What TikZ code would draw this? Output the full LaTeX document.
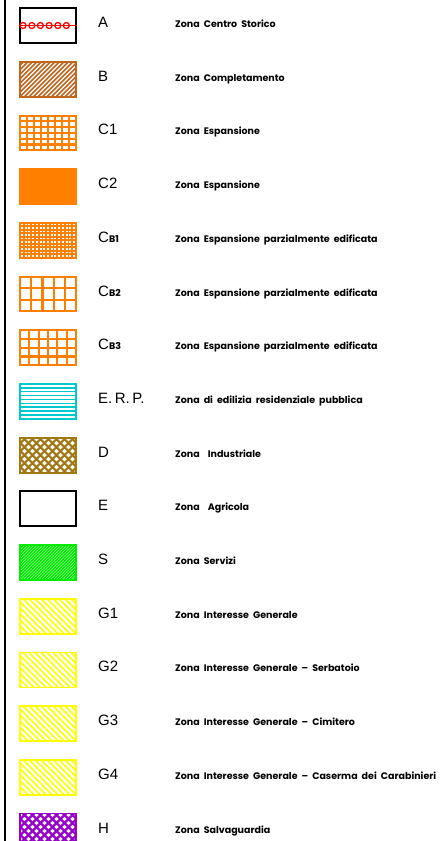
\documentclass[tikz,border=0pt]{standalone}
\usepackage{fontspec}
\setmainfont{Liberation Sans}
\newfontfamily\descfont[WordSpace=2]{Poppins}
\usetikzlibrary{positioning}

\definecolor{zonared}{RGB}{255,0,0}
\definecolor{zonabrown}{RGB}{192,102,30}
\definecolor{zonaorange}{RGB}{255,128,0}
\definecolor{zonacyan}{RGB}{0,200,205}
\definecolor{zonaolive}{RGB}{160,120,20}
\definecolor{zonagreen}{RGB}{0,235,0}
\definecolor{zonalightgreen}{RGB}{150,255,150}
\definecolor{zonayellow}{RGB}{255,255,0}
\definecolor{zonapurple}{RGB}{153,0,204}

\newcommand{\subfnt}{\descfont\bfseries\fontsize{9.5}{9.5}\selectfont}

% hatching inside a path picture
\newcommand{\hatchne}[2]{%
	\foreach \k in {0,...,45}
		\draw[#2] ([xshift=\k*#1-45pt]path picture bounding box.south west) -- ++(50pt,50pt);}
\newcommand{\hatchnw}[2]{%
	\foreach \k in {0,...,45}
		\draw[#2] ([xshift=\k*#1-45pt]path picture bounding box.north west) -- ++(50pt,-50pt);}
\newcommand{\gridfill}[3]{%
	\foreach \i in {0,...,#1}
		\draw[#3] ([xshift=\i*56pt/#1]path picture bounding box.south west) -- ([xshift=\i*56pt/#1]path picture bounding box.north west);
	\foreach \j in {0,...,#2}
		\draw[#3] ([yshift=\j*35pt/#2]path picture bounding box.south west) -- ([yshift=\j*35pt/#2]path picture bounding box.south east);}

\tikzset{
	legbox/.style={draw, line width=1.8pt, minimum width=56pt, minimum height=35pt, inner sep=0pt, fill=white},
	lbl/.style={anchor=base west, inner sep=0pt, font=\fontsize{15}{15}\selectfont},
	desc/.style={anchor=base west, inner sep=0pt, font=\descfont\bfseries\fontsize{9.5}{9.5}\selectfont}
}

\begin{document}
\begin{tikzpicture}[x=1pt, y=1pt]

	\useasboundingbox (0,0) rectangle (442,-841);

	\coordinate (bordotop) at (5,0);
	\coordinate (bordobottom) at (5,-841);
	\draw[line width=2pt] (bordotop) -- (bordobottom);

	% zone A
	\node[legbox, draw=black] (boxA) at (48,-25.5) {};
	\draw[zonared, line width=1.4pt] (boxA.west) -- (boxA.east);
	\foreach \t in {4,12.7,21.3,30,38.7,47.3}
		\draw[zonared, line width=1.3pt] ([xshift=\t pt]boxA.west) circle (3pt);
	\node[lbl] (lblA) at (98,-27.5) {A};
	\node[desc] (descA) at (175,-27.5) {Zona Centro Storico};

	% zone B
	\node[legbox, draw=zonabrown, path picture={\hatchne{4.5pt}{zonabrown, line width=1.6pt}}] (boxB) at (48,-79.2) {};
	\node[lbl] (lblB) at (98,-81.2) {B};
	\node[desc] (descB) at (175,-81.2) {Zona Completamento};

	% zone C
	\node[legbox, draw=zonaorange, path picture={\gridfill{8}{6}{zonaorange, line width=2.4pt}}] (boxCa) at (48,-132.9) {};
	\node[lbl] (lblCa) at (98,-134.9) {C1};
	\node[desc] (descCa) at (175,-134.9) {Zona Espansione};

	\node[legbox, draw=zonaorange, fill=zonaorange] (boxCb) at (48,-186.6) {};
	\node[lbl] (lblCb) at (98,-188.6) {C2};
	\node[desc] (descCb) at (175,-188.6) {Zona Espansione};

	\node[legbox, draw=zonaorange, path picture={\gridfill{15}{10}{zonaorange, line width=1.7pt}}] (boxCBa) at (48,-240.3) {};
	\node[lbl] (lblCBa) at (98,-242.3) {C{\subfnt B1}};
	\node[desc] (descCBa) at (175,-242.3) {Zona Espansione parzialmente edificata};

	\node[legbox, draw=zonaorange, path picture={\gridfill{5}{3}{zonaorange, line width=2.2pt}}] (boxCBb) at (48,-294.0) {};
	\node[lbl] (lblCBb) at (98,-296.0) {C{\subfnt B2}};
	\node[desc] (descCBb) at (175,-296.0) {Zona Espansione parzialmente edificata};

	\node[legbox, draw=zonaorange, path picture={\gridfill{6}{4}{zonaorange, line width=2.2pt}}] (boxCBc) at (48,-347.7) {};
	\node[lbl] (lblCBc) at (98,-349.7) {C{\subfnt B3}};
	\node[desc] (descCBc) at (175,-349.7) {Zona Espansione parzialmente edificata};

	% zone E.R.P.
	\node[legbox, draw=zonacyan, line width=1.5pt, path picture={\gridfill{1}{9}{zonacyan, line width=1.6pt}}] (boxERP) at (48,-401.4) {};
	\node[lbl] (lblERP) at (98,-403.4) {E.\hspace{2.5pt}R.\hspace{2.5pt}P.};
	\node[desc] (descERP) at (175,-403.4) {Zona di edilizia residenziale pubblica};

	% zone D, E, S
	\node[legbox, draw=zonaolive, path picture={\hatchne{8pt}{zonaolive, line width=2.2pt}\hatchnw{8pt}{zonaolive, line width=2.2pt}}] (boxD) at (48,-455.1) {};
	\node[lbl] (lblD) at (98,-457.1) {D};
	\node[desc] (descD) at (175,-457.1) {Zona \ Industriale};

	\node[legbox, draw=black] (boxE) at (48,-508.8) {};
	\node[lbl] (lblE) at (98,-510.8) {E};
	\node[desc] (descE) at (175,-510.8) {Zona \ Agricola};

	\node[legbox, draw=zonagreen, fill=zonagreen, path picture={\hatchne{3pt}{zonalightgreen, line width=0.4pt}}] (boxS) at (48,-562.5) {};
	\node[lbl] (lblS) at (98,-564.5) {S};
	\node[desc] (descS) at (175,-564.5) {Zona Servizi};

	% zone G
	\node[legbox, draw=zonayellow, path picture={\hatchnw{6pt}{zonayellow, line width=1.6pt}}] (boxGa) at (48,-616.2) {};
	\node[lbl] (lblGa) at (98,-618.2) {G1};
	\node[desc] (descGa) at (175,-618.2) {Zona Interesse Generale};

	\node[legbox, draw=zonayellow, path picture={\hatchnw{6pt}{zonayellow, line width=1.6pt}}] (boxGb) at (48,-669.9) {};
	\node[lbl] (lblGb) at (98,-671.9) {G2};
	\node[desc] (descGb) at (175,-671.9) {Zona Interesse Generale – Serbatoio};

	\node[legbox, draw=zonayellow, path picture={\hatchnw{6pt}{zonayellow, line width=1.6pt}}] (boxGc) at (48,-723.6) {};
	\node[lbl] (lblGc) at (98,-725.6) {G3};
	\node[desc] (descGc) at (175,-725.6) {Zona Interesse Generale – Cimitero};

	\node[legbox, draw=zonayellow, path picture={\hatchnw{6pt}{zonayellow, line width=1.6pt}}] (boxGd) at (48,-777.3) {};
	\node[lbl] (lblGd) at (98,-779.3) {G4};
	\node[desc] (descGd) at (175,-779.3) {Zona Interesse Generale – Caserma dei Carabinieri};

	% zone H
	\node[legbox, draw=zonapurple, path picture={\hatchne{8pt}{zonapurple, line width=2.2pt}\hatchnw{8pt}{zonapurple, line width=2.2pt}}] (boxH) at (48,-831.0) {};
	\node[lbl] (lblH) at (98,-833.0) {H};
	\node[desc] (descH) at (175,-833.0) {Zona Salvaguardia};

\end{tikzpicture}
\end{document}
